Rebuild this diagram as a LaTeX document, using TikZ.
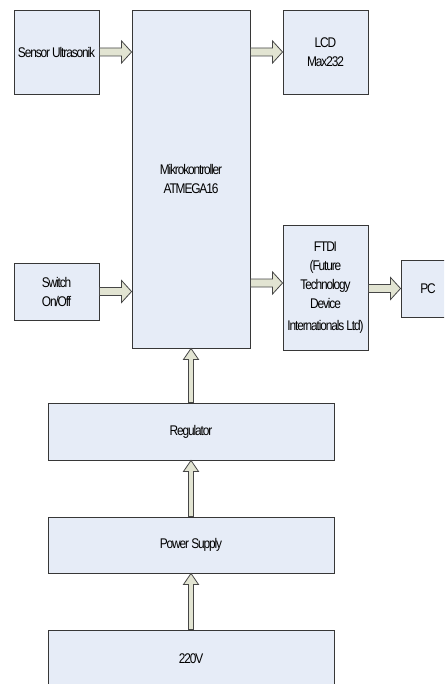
\documentclass[tikz,border=0pt]{standalone}
\usepackage{fontspec}
\setmainfont{Liberation Sans}[FakeStretch=0.85,LetterSpace=-8]
\usetikzlibrary{calc}
\definecolor{boxfill}{RGB}{230,236,247}
\definecolor{boxline}{RGB}{55,55,55}
\definecolor{arrfill}{RGB}{226,228,210}
\definecolor{arrline}{RGB}{70,70,70}
\tikzset{
  blk/.style={draw=boxline,fill=boxfill,line width=0.9pt,inner sep=0pt,align=center,
    font=\fontsize{14}{19}\selectfont},
  barrow/.style={draw=arrline,fill=arrfill,line width=0.8pt,line join=miter}
}
\newcommand\harr[4]{%
  \draw[barrow] let \p1=(#1.east), \p2=(#2.west), \p3=(#3.center) in
   (\x1,\y3+#4+4pt) -- (\x2-10pt,\y3+#4+4pt) -- (\x2-10pt,\y3+#4+11pt) -- (\x2,\y3+#4)
   -- (\x2-10pt,\y3+#4-11pt) -- (\x2-10pt,\y3+#4-4pt) -- (\x1,\y3+#4-4pt) -- cycle;}
\newcommand\varr[2]{%
  \draw[barrow] let \p1=(#1.north), \p2=(#2.south) in
   (\x1-2.5pt,\y1) -- (\x1-2.5pt,\y2-11pt) -- (\x1-7.5pt,\y2-11pt) -- (\x1,\y2)
   -- (\x1+7.5pt,\y2-11pt) -- (\x1+2.5pt,\y2-11pt) -- (\x1+2.5pt,\y1) -- cycle;}
\begin{document}
\begin{tikzpicture}[x=1pt,y=-1pt]
\useasboundingbox (0,0) rectangle (444,684);
\clip (0,0) rectangle (444,684);
\node[blk,minimum width=85pt,minimum height=84pt] (sensor) at (56.5,52) {Sensor Ultrasonik};
\node[blk,minimum width=118pt,minimum height=338pt] (mcu) at (191,179) {Mikrokontroller\\ATMEGA16};
\node[blk,minimum width=85pt,minimum height=84pt] (lcd) at (325.5,52) {LCD\\Max232};
\node[blk,minimum width=85pt,minimum height=57pt] (sw) at (56.5,291.5) {Switch\\On/Off};
\node[blk,minimum width=85pt,minimum height=125pt] (ftdi) at (325.5,287.5) {FTDI\\(Future\\Technology\\Device\\[3pt]Internationals Ltd)};
\node[blk,minimum width=54pt,minimum height=57pt] (pc) at (428,288.5) {PC};
\node[blk,minimum width=286pt,minimum height=57pt] (reg) at (191,431.5) {Regulator};
\node[blk,minimum width=286pt,minimum height=56pt] (ps) at (191,545) {Power Supply};
\node[blk,minimum width=286pt,minimum height=57pt] (v220) at (191,658.5) {220V};
\harr{sensor}{mcu}{sensor}{0pt}
\harr{mcu}{lcd}{lcd}{0pt}
\harr{sw}{mcu}{sw}{0pt}
\harr{mcu}{ftdi}{ftdi}{4.5pt}
\harr{ftdi}{pc}{pc}{0pt}
\varr{reg}{mcu}
\varr{ps}{reg}
\varr{v220}{ps}
\end{tikzpicture}
\end{document}
